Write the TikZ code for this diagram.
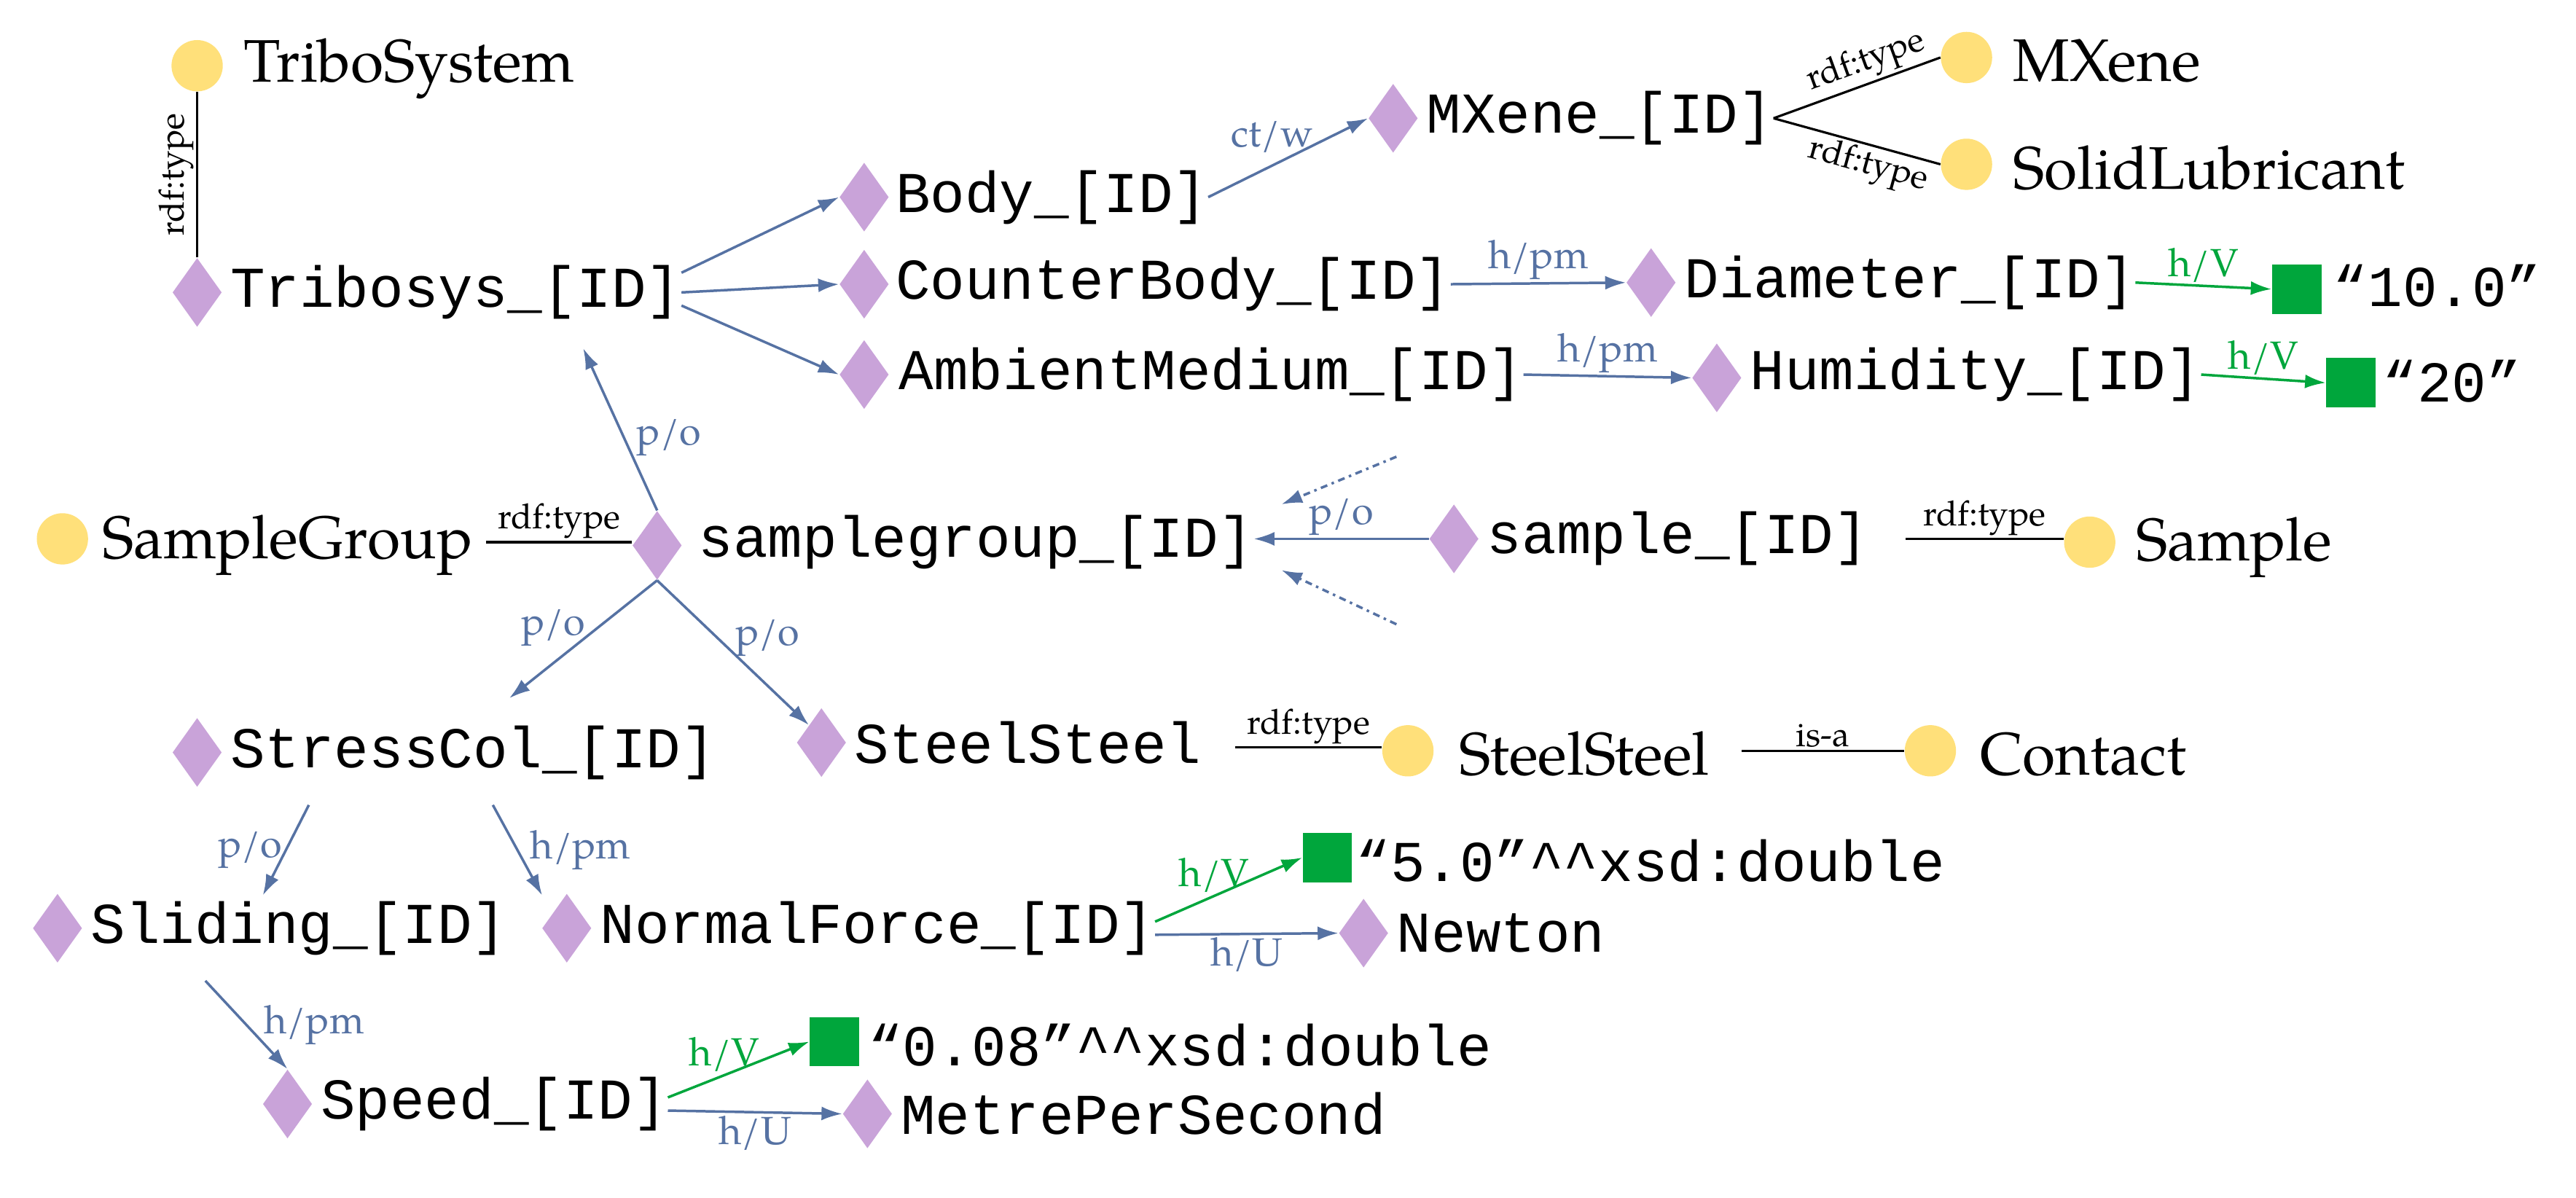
\documentclass[tikz,border=0pt]{standalone}
\usepackage{fontspec}
\setmonofont{Liberation Mono}
\setmainfont{TeX Gyre Pagella}[Scale=1]
\usetikzlibrary{shapes.geometric,arrows.meta}
\definecolor{dpur}{HTML}{C9A3D9}
\definecolor{cyel}{HTML}{FFE07A}
\definecolor{gr}{HTML}{00A63C}
\definecolor{bl}{HTML}{5672A3}
\begin{document}
\begin{tikzpicture}[x=0.025cm,y=-0.025cm,
 dia/.style={diamond,fill=dpur,minimum width=0.75cm,minimum height=1.05cm,inner sep=0pt},
 cir/.style={circle,fill=cyel,minimum size=0.78cm,inner sep=0pt},
 sq/.style={rectangle,fill=gr,minimum size=0.75cm,inner sep=0pt},
 mt/.style={anchor=west,font=\fontsize{25}{28}\selectfont\ttfamily,inner sep=0pt},
 st/.style={anchor=west,font=\fontsize{26}{30}\selectfont,inner sep=0pt},
 lb/.style={font=\fontsize{17}{20}\selectfont,text=bl,inner sep=1pt},
 rl/.style={font=\fontsize{15}{18}\selectfont,inner sep=1pt},
 arr/.style={bl,line width=1.1pt,-{Latex[length=9pt,width=6pt]}},
 garr/.style={gr,line width=1.1pt,-{Latex[length=9pt,width=6pt]}},
 pl/.style={line width=1pt}]
\useasboundingbox (0,0) rectangle (1568,729);
% entities
\node[cir] (c1) at (120,40) {}; \node[st] (t1) at (148,42) {TriboSystem};
\node[dia] (d1) at (120,178) {}; \node[mt] (tribo) at (140,178) {Tribosys\_[ID]};
\node[dia] (d2) at (526,120) {}; \node[mt] (body) at (545,120) {Body\_[ID]};
\node[dia] (d3) at (526,173) {}; \node[mt] (cb) at (545,173) {CounterBody\_[ID]};
\node[dia] (d4) at (526,228) {}; \node[mt] (am) at (547,228) {AmbientMedium\_[ID]};
\node[dia] (d5) at (848,72) {}; \node[mt] (mx) at (868,72) {MXene\_[ID]};
\node[cir] (c2) at (1197,35) {}; \node[st] (t2) at (1225,37) {MXene};
\node[cir] (c3) at (1197,100) {}; \node[st] (t3) at (1225,102) {SolidLubricant};
\node[dia] (d6) at (1005,172) {}; \node[mt] (dm) at (1025,172) {Diameter\_[ID]};
\node[sq] (s1) at (1398,176) {}; \node[mt] (v1) at (1420,174) {“10.0”};
\node[dia] (d7) at (1045,230) {}; \node[mt] (hu) at (1065,228) {Humidity\_[ID]};
\node[sq] (s2) at (1431,233) {}; \node[mt] (v2) at (1450,232) {“20”};
\node[cir] (c4) at (38,328) {}; \node[st] (t4) at (62,332) {SampleGroup};
\node[dia] (d8) at (400,332) {}; \node[mt] (sg) at (425,330) {samplegroup\_[ID]};
\node[dia] (d9) at (885,328) {}; \node[mt] (sa) at (905,328) {sample\_[ID]};
\node[cir] (c5) at (1272,330) {}; \node[st] (t5) at (1300,333) {Sample};
\node[dia] (d10) at (120,458) {}; \node[mt] (sc) at (140,458) {StressCol\_[ID]};
\node[dia] (d11) at (500,452) {}; \node[mt] (ss) at (520,452) {SteelSteel};
\node[cir] (c6) at (857,457) {}; \node[st] (t6) at (888,459) {SteelSteel};
\node[cir] (c7) at (1175,457) {}; \node[st] (t7) at (1205,459) {Contact};
\node[dia] (d12) at (35,565) {}; \node[mt] (sl) at (55,565) {Sliding\_[ID]};
\node[dia] (d13) at (345,565) {}; \node[mt] (nf) at (365,565) {NormalForce\_[ID]};
\node[sq] (s3) at (808,522) {}; \node[mt] (v3) at (825,524) {“5.0”\textasciicircum\textasciicircum xsd:double};
\node[dia] (d14) at (830,568) {}; \node[mt] (nw) at (850,568) {Newton};
\node[dia] (d15) at (175,672) {}; \node[mt] (sp) at (195,672) {Speed\_[ID]};
\node[sq] (s4) at (508,634) {}; \node[mt] (v4) at (528,636) {“0.08”\textasciicircum\textasciicircum xsd:double};
\node[dia] (d16) at (528,678) {}; \node[mt] (mp) at (548,678) {MetrePerSecond};
% helper coordinates
\coordinate (a1) at (850,278); \coordinate (a2) at (780,307);
\coordinate (a3) at (850,380); \coordinate (a4) at (780,347);
\coordinate (tp) at (355,212);
% connectors
\draw[pl] (d1.north) -- node[rl,rotate=90,above] {rdf:type} (c1.south);
\draw[arr] (tribo.east)++(0,-12) -- (d2.west);
\draw[arr] (tribo.east) -- (d3.west);
\draw[arr] (tribo.east)++(0,8) -- (d4.west);
\draw[arr] (body.east) -- node[lb,above,pos=0.4,yshift=4pt] {ct/w} (d5.west);
\draw[pl] (mx.east) -- node[rl,sloped,above,pos=0.6] {rdf:type} (c2.west);
\draw[pl] (mx.east) -- node[rl,sloped,below,pos=0.6] {rdf:type} (c3.west);
\draw[arr] (cb.east) -- node[lb,above] {h/pm} (d6.west);
\draw[garr] (dm.east) -- node[lb,above,text=gr] {h/V} (s1.west);
\draw[arr] (am.east) -- node[lb,above] {h/pm} (d7.west);
\draw[garr] (hu.east) -- node[lb,above,text=gr] {h/V} (s2.west);
\draw[pl] (296,330) -- node[rl,above] {rdf:type} (d8.west |- 0,330);
\draw[arr] (d8.north) -- node[lb,right,pos=0.45,xshift=4pt] {p/o} (tp);
\draw[arr] (d9.west) -- node[lb,above] {p/o} (sg.east |- d9.west);
\draw[arr,dash dot] (a1) -- (a2);
\draw[arr,dash dot] (a3) -- (a4);
\draw[pl] (1160,328) -- node[rl,above] {rdf:type} (c5.west |- 0,328);
\draw[arr] (d8.south) -- node[lb,left,pos=0.4,xshift=-4pt] {p/o} (310,425);
\draw[arr] (d8.south) -- node[lb,right,pos=0.4,xshift=6pt] {p/o} (d11.north west);
\draw[pl] (752,455) -- node[rl,above] {rdf:type} (c6.west |- 0,455);
\draw[pl] (1060,457) -- node[rl,above] {is-a} (c7.west);
\draw[arr] (188,490) -- node[lb,left] {p/o} (160,545);
\draw[arr] (300,490) -- node[lb,right,xshift=4pt] {h/pm} (330,545);
\draw[garr] (nf.east)++(0,-4) -- node[lb,above,text=gr,pos=0.4] {h/V} (s3.west);
\draw[arr] (nf.east)++(0,4) -- node[lb,below] {h/U} (d14.west);
\draw[arr] (125,597) -- node[lb,right,xshift=6pt] {h/pm} (d15.north);
\draw[garr] (sp.east)++(0,-4) -- node[lb,above,text=gr,pos=0.4] {h/V} (s4.west);
\draw[arr] (sp.east)++(0,4) -- node[lb,below] {h/U} (d16.west);
\end{tikzpicture}
\end{document}
